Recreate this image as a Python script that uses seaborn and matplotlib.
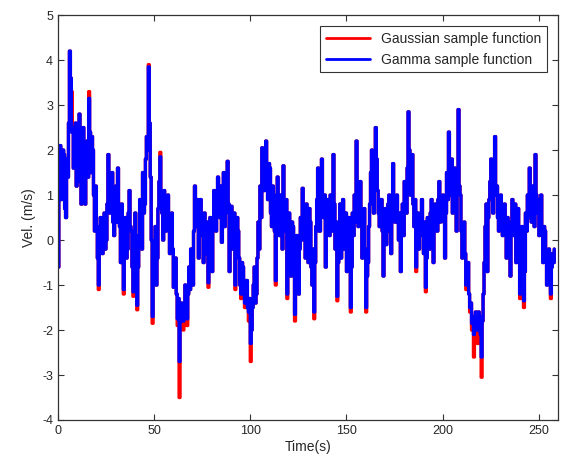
import numpy as np
import pandas as pd
import seaborn as sns
import matplotlib
matplotlib.use("Agg")
import matplotlib.pyplot as plt

# velocity samples at whole seconds (t = 0 .. 258)
gauss_vel = [
    -0.6, 2.1, 1.2, 1.9, 0.5, 1.4, 4.2, 3.3, 1.6, 2.6,
    1.4, 2.8, 0.8, 2.5, 0.8, 2.2, 3.3, 1.5, 2.0, 0.2,
    0.3, -1.1, 0.5, -0.3, 0.6, 0.0, 1.9, 0.6, 1.5, 0.1,
    1.2, 1.6, 0.3, 0.8, -1.2, 0.5, -0.2, 1.1, 0.2, -1.25,
    0.6, -1.55, 0.1, 0.7, 1.5, 0.8, 2.3, 3.9, 1.4, -1.85,
    -0.3, -1.0, 0.7, 1.95, 0.6, 1.1, 0.2, 1.0, -0.3, 0.6,
    -1.05, -0.4, -1.9, -3.5, -1.4, -2.0, -1.0, -1.9, -0.6, -0.2,
    -1.0, 1.2, 0.3, -0.4, 0.9, 0.1, 0.6, -0.3, -1.05, 0.5,
    -0.7, 1.1, 0.2, 1.4, 0.5, -0.05, 1.5, 0.6, 1.75, -0.7,
    0.75, 0.1, -1.1, 0.5, -0.4, -1.3, -0.6, -1.5, -0.9, -1.8,
    -2.7, -1.5, -0.6, -1.2, 0.4, 1.2, 2.05, 1.1, 2.2, 0.9,
    1.6, 0.3, 1.0, -1.0, 1.4, 0.1, 0.7, 1.65, 0.2, -1.3,
    0.6, -0.8, 0.3, -1.8, 0.1, -1.2, 0.5, 1.15, 0.2, 0.8,
    -0.5, 0.4, -1.0, -1.75, 0.3, 1.6, 0.2, 1.8, 0.5, -0.6,
    0.9, 0.1, 0.7, 1.9, -0.2, -1.35, 0.4, -0.4, 0.9, 0.2,
    -0.7, 0.5, -1.6, 0.6, 1.0, 2.2, 0.3, 1.3, -0.4, 0.7,
    -1.6, -0.5, 0.8, 2.0, 0.6, 2.5, 1.1, 0.3, 0.9, -0.8,
    0.7, 0.2, 1.0, -0.3, 1.7, 0.4, 1.0, 0.0, -0.7, 0.8,
    1.3, 0.6, 2.85, 1.0, 1.9, 0.3, -0.7, 0.6, 0.1, 0.9,
    -0.3, -1.15, 0.5, -0.2, 0.9, -0.5, 0.8, 0.2, 1.3, 0.5,
    1.0, -0.4, 1.5, 2.4, 1.0, 0.6, 1.6, 0.2, 2.9, 1.0,
    -0.4, 0.4, -1.1, -0.5, -1.6, -2.0, -2.6, -1.6, -2.3, -1.7,
    -3.05, -1.2, 0.3, -0.7, 0.9, 1.8, 0.6, 2.3, 1.2, 0.2,
    1.0, 0.1, 0.8, -0.4, 0.4, -0.8, 0.9, 0.1, -0.5, 0.7,
    -1.3, 0.3, -1.5, 0.6, 1.0, 1.6, 0.4, 1.1, 1.9, 0.6,
    0.1, 1.0, -0.5, 0.2, -1.0, -0.2, -1.3, -0.3, -0.2,
]
# samples in between (t = 0.5 .. 257.5), the dense band of the trace
gauss_half = [
    1.5, 0.9, 2.0, 0.7, 1.8, 2.6, 3.6, 2.4, 2.5, 1.2,
    2.3, 1.3, 2.0, 1.2, 1.7, 1.4, 2.4, 2.3, 1.0, 1.2,
    -0.4, -0.3, 0.0, 0.5, -0.2, 0.8, 0.9, 1.3, 0.4, 0.9,
    0.4, 0.8, -0.5, 0.0, -0.3, -0.4, 0.6, 0.3, -0.6, 0.0,
    -0.4, -0.6, 0.9, -0.2, 0.6, 1.8, 2.0, 2.6, 0.0, -0.9,
    0.3, -0.4, 1.3, 1.0, 0.0, 0.4, 0.8, 0.3, 0.4, -0.2,
    -0.6, -1.2, -1.3, -1.5, -1.8, -1.5, -1.6, -1.2, -1.1, -0.7,
    0.2, 0.5, 0.9, 0.4, 0.2, -0.5, 0.0, 0.4, -0.2, 0.1,
    0.4, 0.6, 0.9, 0.7, 1.2, 0.7, 0.3, 1.3, 0.8, 0.3,
    -0.2, 0.6, -0.3, 0.2, -1.0, -0.5, -1.2, -0.9, -1.5, -1.3,
    -2.0, -1.0, -1.4, -0.4, -0.2, 0.5, 1.5, 1.9, 1.3, 1.7,
    0.6, 1.2, 0.2, 0.3, 0.4, 1.0, -0.2, 0.8, 0.9, -0.4,
    0.0, 0.4, -0.6, -0.8, -0.5, -0.2, 0.0, 0.3, -0.4, 0.1,
    0.7, -0.6, -0.2, -0.5, 0.9, 0.2, 0.8, 0.6, 1.0, 0.3,
    0.4, 1.0, 0.2, 0.8, 0.4, -0.5, 0.8, 0.3, -0.2, 0.6,
    0.2, -0.3, -0.6, 0.1, 0.4, 1.2, 1.0, 0.5, 0.4, -0.2,
    -0.8, 0.3, 1.5, 1.3, 1.2, 1.8, 0.6, 0.9, 0.2, 0.3,
    -0.1, 0.8, 0.3, 0.7, 0.9, 0.8, 0.4, 0.6, 0.2, 0.1,
    0.7, 1.6, 2.0, 1.5, 0.8, 0.9, 0.2, -0.2, 0.5, 0.2,
    0.4, -0.4, 0.1, 0.6, 0.1, 0.3, 0.2, 0.9, 0.4, 0.9,
    0.4, 0.6, 0.9, 1.5, 1.8, 1.0, 0.8, 1.4, 1.2, 0.2,
    0.3, -0.3, -0.6, -1.2, -1.4, -1.7, -1.8, -2.0, -1.6, -2.1,
    -1.8, -0.5, 0.8, 0.5, 1.3, 0.9, 1.5, 1.0, 0.5, 0.9,
    0.3, 0.7, 0.2, 0.5, 0.0, 0.3, 0.4, 0.8, 0.2, -0.3,
    -0.5, -0.2, -0.7, 0.2, 0.5, 0.9, 1.2, 0.3, 1.0, 0.9,
    0.5, 0.2, 0.3, -0.4, -0.3, -0.9, -0.6, -0.5,
]
# whole-second samples where the gamma trace stops short of the gaussian one
gamma_diff = {
    7: 2.4, 16: 3.15, 21: -1.0, 34: -1.1, 39: -1.15, 41: -1.45, 47: 3.85,
    49: -1.7, 53: 1.85, 62: -1.75, 63: -2.7, 65: -1.8, 67: -1.75,
    78: -0.95, 92: -1.0, 95: -1.2, 97: -1.4, 99: -1.6, 100: -2.3,
    113: -0.9, 119: -1.2, 123: -1.65, 133: -1.6, 145: -1.25, 152: -1.5,
    160: -1.5, 186: -0.6, 191: -1.05, 212: -1.0, 214: -1.5, 215: -1.85,
    216: -2.1, 218: -2.0, 220: -2.6, 240: -1.2, 242: -1.35, 256: -1.2,
}

gamma_vel = [gamma_diff.get(i, v) for i, v in enumerate(gauss_vel)]


def merge(whole, half):
    t, v = [], []
    for i, w in enumerate(whole):
        t.append(float(i))
        v.append(w)
        if i < len(half):
            t.append(i + 0.5)
            v.append(half[i])
    return t, v


t_ga, v_ga = merge(gauss_vel, gauss_half)
t_gm, v_gm = merge(gamma_vel, gauss_half)

df = pd.DataFrame({
    "t": t_ga + t_gm,
    "v": v_ga + v_gm,
    "series": ["Gaussian sample function"] * len(t_ga) + ["Gamma sample function"] * len(t_gm),
})

sns.set_style("ticks")
plt.rcParams["font.family"] = ["Liberation Sans", "DejaVu Sans"]
plt.rcParams["axes.unicode_minus"] = False

fig = plt.figure(figsize=(5.73, 4.59), dpi=100)
ax = fig.add_axes([0.101, 0.085, 0.873, 0.882])
sns.lineplot(data=df, x="t", y="v", hue="series",
             palette={"Gaussian sample function": "red", "Gamma sample function": "blue"},
             estimator=None, drawstyle="steps-post", linewidth=2.4, ax=ax)

ax.set_xlim(0, 260)
ax.set_ylim(-4, 5)
ax.set_xticks([0, 50, 100, 150, 200, 250])
ax.set_yticks(range(-4, 6))
ax.tick_params(direction="in", top=True, right=True, labelsize=9, length=4, width=0.8, color="#333333")
for s in ax.spines.values():
    s.set_visible(True)
    s.set_linewidth(0.9)
    s.set_color("#333333")
ax.set_xlabel("Time(s)", fontsize=10, labelpad=2)
ax.set_ylabel("Vel. (m/s)", fontsize=10, labelpad=4)

leg = ax.legend(loc="upper right", fontsize=10, frameon=True, fancybox=False,
                edgecolor="black", borderaxespad=0.8, handlelength=3.2)
leg.get_frame().set_linewidth(0.8)
for h in leg.get_lines():
    h.set_linewidth(2)

fig.savefig("out.png", dpi=100)
